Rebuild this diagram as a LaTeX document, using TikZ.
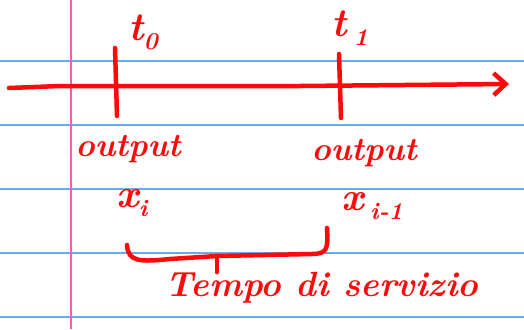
\documentclass[tikz,border=0pt]{standalone}
\usetikzlibrary{arrows.meta}
\definecolor{ink}{HTML}{FF0A0A}
\definecolor{rule}{HTML}{6FA8E8}
\definecolor{margin}{HTML}{FF5AAE}
\newcommand{\sub}[1]{\raisebox{-9pt}{\fontsize{24}{24}\selectfont #1}}
\tikzset{
  pen/.style={ink, line width=4.5pt, line cap=round, line join=round},
  hand/.style={text=ink, font=\itshape\bfseries\fontsize{33}{33}\selectfont, inner sep=0pt},
  big/.style={hand, font=\itshape\bfseries\fontsize{40}{40}\selectfont},
}
\begin{document}
\begin{tikzpicture}[x=1pt,y=-1pt]
\useasboundingbox (0,0) rectangle (524,329);
\fill[white] (0,0) rectangle (524,329);
% ruled paper
\foreach \yy in {61,125,189,253,317}
  \draw[rule, line width=1.5pt] (0,\yy) -- (524,\yy);
\draw[margin, line width=2pt] (71,0) -- (71,329);
% axis
\coordinate (a0) at (9,88);
\coordinate (a1) at (509,84);
\draw[pen, -{Straight Barb[length=12pt,width=22pt,line width=4.5pt]}] (a0) -- (60,86) -- (300,86) -- (a1);
% ticks
\coordinate (p0) at (115,48);
\coordinate (q0) at (117,116);
\draw[pen] (p0) -- (q0);
\coordinate (p1) at (339,54);
\coordinate (q1) at (341,118);
\draw[pen] (p1) -- (q1);
% tick labels
\node[big] (t0) at (143,32) {t\sub{0}};
\node[big] (t1) at (350,28) {t\,\sub{1}};
% outputs
\node[hand] (o0) at (128,149) {output};
\node[hand] (o1) at (364,153) {output};
\node[big] (x0) at (132,203) {x\sub{i}};
\node[big] (x1) at (372,206) {x\,\sub{i-1}};
% brace
\coordinate (b0) at (127,245);
\coordinate (b1) at (327,228);
\coordinate (bm) at (217,256);
\draw[pen] (b0) .. controls (128,262) and (140,262) .. (170,259) -- (bm) -- (312,254) .. controls (328,254) and (328,248) .. (b1);
% label
\node[hand, font=\itshape\bfseries\fontsize{35}{35}\selectfont] (lab) at (322,288) {Tempo di servizio};
\draw[pen] (bm) -- (lab.north -| bm);
\end{tikzpicture}
\end{document}
